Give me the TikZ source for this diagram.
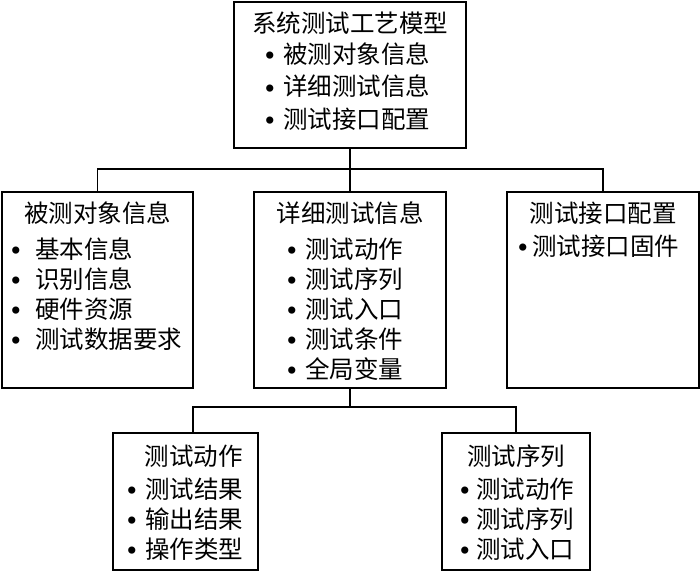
\documentclass[tikz,border=0pt]{standalone}
\usepackage{fontspec}
\setmainfont{Noto Sans CJK SC}
\newfontfamily\bulletfont{Liberation Serif}
\newcommand{\blt}[1][8pt]{\raisebox{-2.5pt}{\bulletfont\fontsize{30}{30}\selectfont\char"2022}\hspace{#1}}
\usetikzlibrary{positioning}

\begin{document}
\begin{tikzpicture}[
    x=1pt, y=-1pt,
    box/.style={rectangle, draw=black, line width=1.2pt, inner sep=0pt},
    ttl/.style={inner sep=0pt, font=\fontsize{24.5}{30}\selectfont},
    lst/.style={inner sep=0pt, align=left, font=\fontsize{24.5}{30}\selectfont},
    toplst/.style={lst, font=\fontsize{24.5}{32.5}\selectfont},
    link/.style={line width=1.2pt}
]
\useasboundingbox (0,0) rectangle (700,571);

% Top level
\node[box, minimum width=232pt, minimum height=146pt] (sys) at (350,75) {};
\node[ttl, below=10pt of sys.north] (systtl) {系统测试工艺模型};
\node[toplst, below right=41pt and 31pt of sys.north west] (syslst) {\blt 被测对象信息\\\blt 详细测试信息\\\blt 测试接口配置};

% Second level
\node[box, minimum width=191pt, minimum height=196pt] (obj) at (97.5,290) {};
\node[ttl, below=10pt of obj.north] (objttl) {被测对象信息};
\node[lst, below right=46pt and 9pt of obj.north west] (objlst) {\blt[14pt]基本信息\\\blt[14pt]识别信息\\\blt[14pt]硬件资源\\\blt[14pt]测试数据要求};

\node[box, minimum width=192pt, minimum height=196pt] (det) at (350,290) {};
\node[ttl, below=10pt of det.north] (detttl) {详细测试信息};
\node[lst, below right=46pt and 33pt of det.north west] (detlst) {\blt 测试动作\\\blt 测试序列\\\blt 测试入口\\\blt 测试条件\\\blt 全局变量};

\node[box, minimum width=192pt, minimum height=196pt] (intf) at (603,290) {};
\node[ttl, below=10pt of intf.north] (intfttl) {测试接口配置};
\node[lst, below right=43pt and 11pt of intf.north west] (intflst) {\blt[4pt]测试接口固件};

% Third level
\node[box, minimum width=145pt, minimum height=137pt] (act) at (185.5,501.5) {};
\node[ttl, below=12pt of act.north, xshift=8pt] (actttl) {测试动作};
\node[lst, below right=45pt and 14pt of act.north west] (actlst) {\blt 测试结果\\\blt 输出结果\\\blt 操作类型};

\node[box, minimum width=148pt, minimum height=137pt] (seq) at (516,501.5) {};
\node[ttl, below=12pt of seq.north] (seqttl) {测试序列};
\node[lst, below right=45pt and 18pt of seq.north west] (seqlst) {\blt[6pt]测试动作\\\blt[6pt]测试序列\\\blt[6pt]测试入口};

% Connectors
\coordinate (hub1) at (350,169);
\coordinate (hub2) at (350,407);
\draw[link] (sys.south) -- (det.north);
\draw[link] (obj.north) |- (hub1) -| (intf.north);
\draw[link] (det.south) -- (hub2);
\draw[link] ([xshift=7.5pt]act.north) |- (hub2) -| (seq.north);

\end{tikzpicture}
\end{document}
